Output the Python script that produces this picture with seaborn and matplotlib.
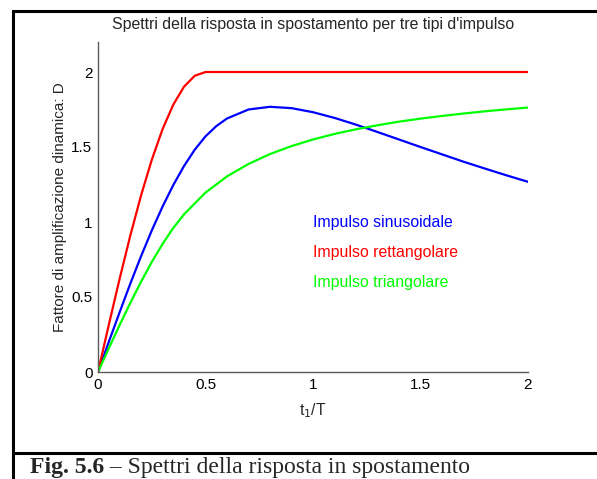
import numpy as np
import pandas as pd
import seaborn as sns
import matplotlib.pyplot as plt

# t1/T values and response factors
t_rett = [0, 0.05, 0.1, 0.15, 0.2, 0.25, 0.3, 0.35, 0.4, 0.45, 0.5, 1.0, 1.5, 2.0]
d_rett = [0, 0.313, 0.618, 0.908, 1.176, 1.414, 1.618, 1.782, 1.902, 1.975, 2.0, 2.0, 2.0, 2.0]

t_sin = [0, 0.05, 0.1, 0.15, 0.2, 0.25, 0.3, 0.35, 0.4, 0.45, 0.5, 0.55, 0.6, 0.7, 0.8,
         0.9, 1.0, 1.1, 1.2, 1.3, 1.4, 1.5, 1.6, 1.7, 1.8, 1.9, 2.0]
d_sin = [0, 0.200, 0.396, 0.588, 0.771, 0.943, 1.102, 1.246, 1.373, 1.482, 1.571, 1.639,
         1.690, 1.750, 1.768, 1.759, 1.732, 1.694, 1.649, 1.600, 1.550, 1.500, 1.451,
         1.402, 1.356, 1.311, 1.268]

t_tri = [0, 0.05, 0.1, 0.15, 0.2, 0.25, 0.3, 0.35, 0.4, 0.5, 0.6, 0.7, 0.8, 0.9, 1.0,
         1.1, 1.2, 1.3, 1.4, 1.5, 1.6, 1.7, 1.8, 1.9, 2.0]
d_tri = [0, 0.157, 0.311, 0.460, 0.601, 0.733, 0.853, 0.960, 1.051, 1.196, 1.304, 1.387,
         1.453, 1.506, 1.550, 1.587, 1.618, 1.645, 1.669, 1.689, 1.707, 1.723, 1.738,
         1.751, 1.763]

labels = ['Impulso sinusoidale', 'Impulso rettangolare', 'Impulso triangolare']
colors = ['#0000ff', '#ff0000', '#00ff00']
yticks = [0, 0.5, 1, 1.5, 2]
xticks = [0, 0.5, 1, 1.5, 2]

df = pd.concat([
    pd.DataFrame({'t': t_sin, 'D': d_sin, 'tipo': labels[0]}),
    pd.DataFrame({'t': t_rett, 'D': d_rett, 'tipo': labels[1]}),
    pd.DataFrame({'t': t_tri, 'D': d_tri, 'tipo': labels[2]}),
])

sns.set_style("white")
plt.rcParams['font.family'] = ['Liberation Sans', 'DejaVu Sans']

fig = plt.figure(figsize=(5.97, 4.79), dpi=100)
ax = fig.add_axes([98/597, 107/479, 430/597, 330/479])

sns.lineplot(data=df, x='t', y='D', hue='tipo', palette=dict(zip(labels, colors)),
             estimator=None, sort=False, lw=1.6, legend=False, ax=ax)

ax.set_xlim(0, 2)
ax.set_ylim(0, 2.2)
ax.set_xticks(xticks)
ax.set_yticks(yticks)
ax.set_xticklabels(['0', '0.5', '1', '1.5', '2'])
ax.set_yticklabels(['0', '0.5', '1', '1.5', '2'])
for s in ['top', 'right']:
    ax.spines[s].set_visible(False)
for s in ['left', 'bottom']:
    ax.spines[s].set_color('#5a5a5a')
    ax.spines[s].set_linewidth(1.0)
ax.tick_params(direction='in', length=3, width=0.8, color='#5a5a5a', labelsize=11,
               labelcolor='black', pad=4)

ax.set_title("Spettri della risposta in spostamento per tre tipi d'impulso", fontsize=11.4, pad=9)
ax.set_xlabel('t$_1$/T', fontsize=11.2, labelpad=7)
ax.set_ylabel('Fattore di amplificazione dinamica: D', fontsize=11, labelpad=3)

for lab, col, yy in zip(labels, colors, [1.0, 0.8, 0.6]):
    ax.text(1.0, yy, lab, color=col, fontsize=11.4, ha='left', va='center')

# outer frame and caption
fig.add_artist(plt.Rectangle((13/597, -0.05), 1.0, 1 - 11/479 + 0.05, transform=fig.transFigure,
                             fill=False, lw=2.2, color='black'))
fig.add_artist(plt.Line2D([13/597, 1.0], [1 - 453/479, 1 - 453/479], transform=fig.transFigure,
                          lw=2.2, color='black'))

t1 = fig.text(30/597, 1 - 473/479, 'Fig. 5.6', fontsize=17, fontweight='bold',
              family='Liberation Serif', va='baseline', ha='left')
fig.canvas.draw()
bb = t1.get_window_extent()
fig.text(bb.x1 / fig.bbox.width, 1 - 473/479, ' \u2013 Spettri della risposta in spostamento',
         fontsize=17, family='Liberation Serif', va='baseline', ha='left')

fig.savefig('out.png', dpi=100)
